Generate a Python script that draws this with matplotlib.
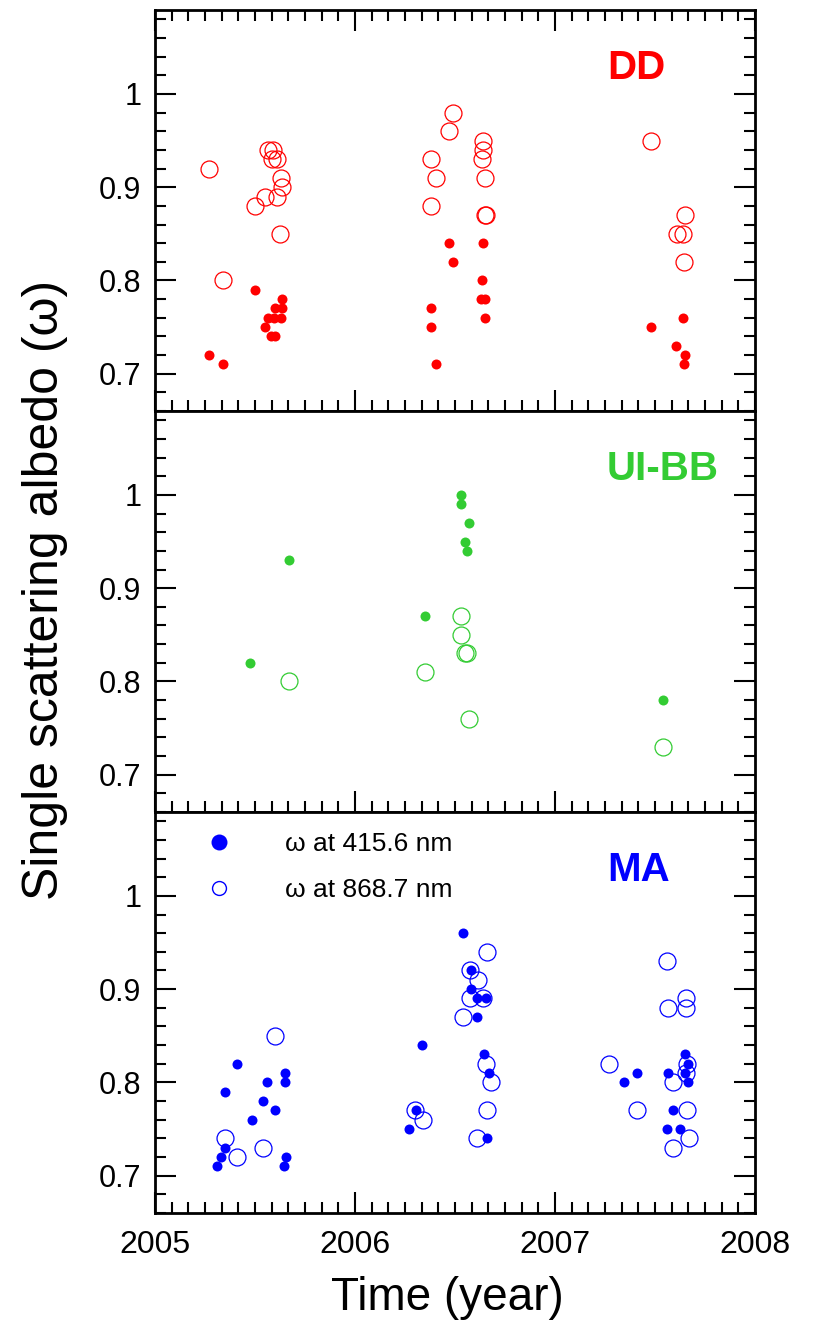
import matplotlib
matplotlib.use("Agg")
import matplotlib.pyplot as plt
from matplotlib.ticker import MultipleLocator, FuncFormatter
from matplotlib.lines import Line2D

plt.rcParams['font.family'] = ['Liberation Sans', 'DejaVu Sans']

# DD site
dd_x_415 = [2005.27, 2005.34, 2005.50, 2005.635, 2005.60, 2005.635, 2005.565, 2005.595, 2005.63,
            2005.55, 2005.58, 2005.60, 2006.38, 2006.38, 2006.405, 2006.47, 2006.49, 2006.64,
            2006.635, 2006.63, 2006.65, 2006.65, 2007.48, 2007.64, 2007.605, 2007.65, 2007.645]
dd_w_415 = [0.72, 0.71, 0.79, 0.78, 0.77, 0.77, 0.76, 0.76, 0.76, 0.75, 0.74, 0.74, 0.77, 0.75,
            0.71, 0.84, 0.82, 0.84, 0.80, 0.78, 0.78, 0.76, 0.75, 0.76, 0.73, 0.72, 0.71]
dd_x_868 = [2005.27, 2005.34, 2005.50, 2005.55, 2005.567, 2005.588, 2005.583, 2005.608, 2005.63,
            2005.633, 2005.61, 2005.625, 2006.49, 2006.47, 2006.38, 2006.405, 2006.38, 2006.64,
            2006.64, 2006.635, 2006.65, 2006.65, 2006.655, 2007.48, 2007.65, 2007.61, 2007.64,
            2007.645]
dd_w_868 = [0.92, 0.80, 0.88, 0.89, 0.94, 0.94, 0.93, 0.93, 0.91, 0.90, 0.89, 0.85, 0.98, 0.96,
            0.93, 0.91, 0.88, 0.95, 0.94, 0.93, 0.91, 0.87, 0.87, 0.95, 0.87, 0.85, 0.85, 0.82]

# UI-BB site
ui_x_415 = [2005.475, 2005.67, 2006.35, 2006.53, 2006.53, 2006.57, 2006.55, 2006.56, 2007.54]
ui_w_415 = [0.82, 0.93, 0.87, 1.00, 0.99, 0.97, 0.95, 0.94, 0.78]
ui_x_868 = [2005.67, 2006.35, 2006.53, 2006.53, 2006.55, 2006.56, 2006.57, 2007.54]
ui_w_868 = [0.80, 0.81, 0.87, 0.85, 0.83, 0.83, 0.76, 0.73]

# MA site
ma_x_415 = [2005.31, 2005.33, 2005.35, 2005.35, 2005.41, 2005.485, 2005.54, 2005.56, 2005.60,
            2005.65, 2005.65, 2005.655, 2005.645, 2006.27, 2006.305, 2006.335, 2006.54, 2006.58,
            2006.58, 2006.61, 2006.655, 2006.61, 2006.645, 2006.67, 2006.66, 2007.345, 2007.41,
            2007.565, 2007.59, 2007.56, 2007.625, 2007.65, 2007.665, 2007.65, 2007.665]
ma_w_415 = [0.71, 0.72, 0.73, 0.79, 0.82, 0.76, 0.78, 0.80, 0.77, 0.81, 0.80, 0.72, 0.71, 0.75,
            0.77, 0.84, 0.96, 0.92, 0.90, 0.89, 0.89, 0.87, 0.83, 0.81, 0.74, 0.80, 0.81, 0.81,
            0.77, 0.75, 0.75, 0.83, 0.82, 0.81, 0.80]
ma_x_868 = [2005.35, 2005.41, 2005.54, 2005.60, 2006.30, 2006.34, 2006.66, 2006.575, 2006.615,
            2006.575, 2006.64, 2006.54, 2006.655, 2006.68, 2006.66, 2006.61, 2007.27, 2007.41,
            2007.56, 2007.565, 2007.655, 2007.655, 2007.66, 2007.655, 2007.59, 2007.66, 2007.67,
            2007.59]
ma_w_868 = [0.74, 0.72, 0.73, 0.85, 0.77, 0.76, 0.94, 0.92, 0.91, 0.89, 0.89, 0.87, 0.82, 0.80,
            0.77, 0.74, 0.82, 0.77, 0.93, 0.88, 0.89, 0.88, 0.82, 0.81, 0.80, 0.77, 0.74, 0.73]

sites = ['DD', 'UI-BB', 'MA']
colors = ['#ff0000', '#33cc33', '#0000ff']
data = [(dd_x_415, dd_w_415, dd_x_868, dd_w_868),
        (ui_x_415, ui_w_415, ui_x_868, ui_w_868),
        (ma_x_415, ma_w_415, ma_x_868, ma_w_868)]

fig, axes = plt.subplots(3, 1, sharex=True, figsize=(8.13, 13.2), dpi=100)
fig.subplots_adjust(left=0.1907, right=0.9287, bottom=0.0811, top=0.9924, hspace=0)

for i, ax in enumerate(axes):
    x1, w1, x2, w2 = data[i]
    c = colors[i]
    ax.plot(x2, w2, 'o', ls='none', ms=12.2, mfc='none', mec=c, mew=0.9)
    ax.plot(x1, w1, 'o', ls='none', ms=7.2, mfc=c, mec=c, mew=0)
    ax.set_xlim(2005, 2008)
    ax.set_ylim(0.66, 1.09)
    ax.set_yticks([0.7, 0.8, 0.9, 1.0])
    ax.yaxis.set_minor_locator(MultipleLocator(0.02))
    ax.xaxis.set_major_locator(MultipleLocator(1))
    ax.xaxis.set_minor_locator(MultipleLocator(1 / 12))
    ax.yaxis.set_major_formatter(FuncFormatter(lambda v, p: '%g' % round(v, 2)))
    ax.tick_params(which='both', direction='in', left=True, right=True, bottom=True,
                   top=(i == 0), width=1.5)
    ax.tick_params(which='major', length=15)
    ax.tick_params(which='minor', length=8)
    ax.tick_params(axis='y', pad=10, labelsize=22)
    ax.tick_params(axis='x', pad=12, labelsize=23)
    for s in ax.spines.values():
        s.set_linewidth(2)
    ax.text(2007.26, 1.016, sites[i], color=c, fontsize=29, fontweight='bold',
            ha='left', va='baseline')

handles = [Line2D([], [], marker='o', ls='none', ms=11.5, mfc='#0000ff', mec='#0000ff', mew=0),
           Line2D([], [], marker='o', ls='none', ms=10, mfc='none', mec='#0000ff', mew=1)]
axes[2].legend(handles, ['\u03c9 at 415.6 nm', '\u03c9 at 868.7 nm'], loc='upper left',
               bbox_to_anchor=(0.0847, 0.950), frameon=False, fontsize=19, borderpad=0,
               handlelength=1.0, handletextpad=2.0, labelspacing=0.85, borderaxespad=0)

fig.text(0.055, 0.553, 'Single scattering albedo (\u03c9)', rotation=90, fontsize=36,
         ha='center', va='center')
fig.text(0.55, 0.0167, 'Time (year)', fontsize=33, ha='center', va='center')

fig.savefig('out.png', dpi=100)
